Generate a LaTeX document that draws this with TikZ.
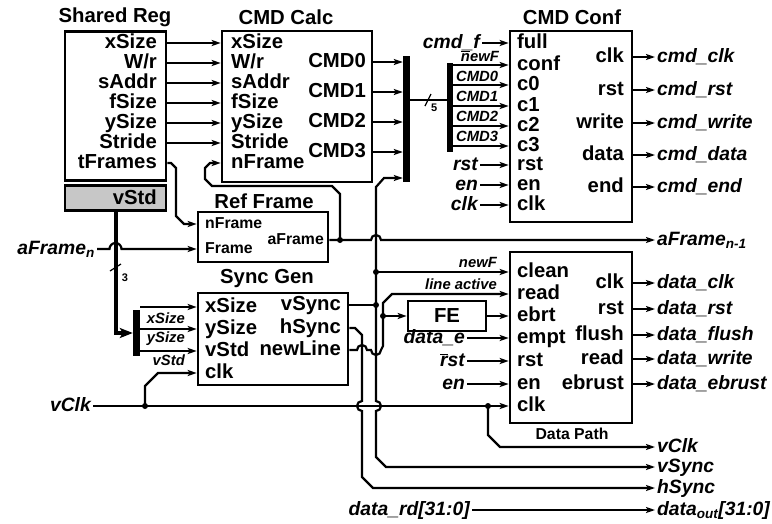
\documentclass[tikz,border=0pt]{standalone}
\usepackage{fontspec}
\setmainfont{Liberation Sans}
\usetikzlibrary{arrows.meta}

\newcommand{\bigfont}{\bfseries\fontsize{20.3}{21}\selectfont}
\newcommand{\midfont}{\bfseries\fontsize{15.8}{16}\selectfont}
\newcommand{\tagfont}{\bfseries\itshape\fontsize{14.8}{15}\selectfont}
\newcommand{\extfont}{\bfseries\itshape\fontsize{19.3}{20}\selectfont}
\newcommand{\ovl}[1]{$\overline{\mbox{#1}}$}

\begin{document}
\begin{tikzpicture}[x=1pt,y=-1pt,
  blk/.style={draw,line width=2.6pt,inner sep=0pt},
  bus/.style={fill=black,inner sep=0pt,minimum width=7pt},
  port/.style={inner sep=0pt,font=\bigfont,text height=14pt,text depth=4pt},
  sport/.style={port,font=\midfont,text height=11pt,text depth=3pt},
  ttl/.style={inner sep=0pt,font=\bigfont},
  ext/.style={inner xsep=2pt,inner ysep=0pt,font=\extfont,text height=14pt,text depth=4pt},
  tag/.style={inner sep=0pt,font=\tagfont},
  wire/.style={line width=2.2pt},
  sig/.style={wire,-{Stealth[length=9pt,width=6pt,inset=2pt]}},
  dot/.style={circle,fill,inner sep=0pt,minimum size=6pt}]
\useasboundingbox (0,0) rectangle (772,523);

% blocks
\node[blk,minimum width=101pt,minimum height=149pt] (sr) at (115.5,106) {};
\node[blk,fill=black!22,minimum width=101pt,minimum height=25pt] (vs) at (115.5,198) {};
\node[blk,minimum width=150pt,minimum height=151pt] (cc) at (297,106.5) {};
\node[blk,minimum width=122pt,minimum height=191pt] (cf) at (571,126.5) {};
\node[blk,minimum width=130pt,minimum height=50pt] (rf) at (263,237) {};
\node[blk,minimum width=150pt,minimum height=92pt] (sg) at (273,339) {};
\node[blk,minimum width=122pt,minimum height=171pt] (dp) at (571,337.5) {};
\node[blk,minimum width=78pt,minimum height=30pt,font=\bigfont] (fe) at (447,316) {FE};
\node[bus,minimum height=126pt] (b1) at (406.5,119) {};
\node[bus,minimum width=6pt,minimum height=89pt] (b2) at (450,107.5) {};
\node[bus,minimum height=46pt] (b3) at (136.5,333) {};

% titles
\node[ttl] (t-sr) at (115,17) {Shared Reg};
\node[ttl] (t-cc) at (286,17) {CMD Calc};
\node[ttl] (t-cf) at (572,17) {CMD Conf};
\node[ttl] (t-rf) at (264,201) {Ref Frame};
\node[ttl] (t-sg) at (267,279) {Sync Gen};
\node[inner sep=0pt,font=\midfont] (t-dp) at (572,434) {Data Path};

% Shared Reg -> CMD Calc
\foreach \n/\lbl/\y in {xs/xSize/43,wr/W\slash r/63,sa/sAddr/83,fs/fSize/103,ys/ySize/123,st/Stride/143,tf/tFrames/163}
  \node[port,anchor=east] (sr-\n) at (157,\y) {\lbl};
\node[port,anchor=east] (vs-vs) at (157,199) {vStd};
\foreach \n/\lbl/\y in {xs/xSize/43,wr/W\slash r/63,sa/sAddr/83,fs/fSize/103,ys/ySize/123,st/Stride/143,nf/nFrame/163}
  \node[port,anchor=west] (cc-\n) at (231,\y) {\lbl};
\foreach \n/\y in {0/62,1/92,2/122,3/152}
  \node[port,anchor=east] (cc-c\n) at (366,\y) {CMD\n};
\foreach \n in {xs,wr,sa,fs,ys,st} \draw[sig] (sr.east |- sr-\n) -- (cc.west |- sr-\n);
\foreach \n in {0,...,3} \draw[sig] (cc.east |- cc-c\n) -- (b1.west |- cc-c\n);

% CMD Conf
\foreach \n/\y in {full/43,conf/65,c0/85,c1/106,c2/126,c3/146,rst/165,en/185,clk/205}
  \node[port,anchor=west] (cf-\n) at (517,\y) {\n};
\foreach \n/\y in {clk/57,rst/90,write/123,data/155,end/187}{
  \node[port,anchor=east] (cf-o\n) at (624,\y) {\n};
  \node[ext,anchor=west] (cmd-\n) at (655,\y) {cmd\_\n};
  \draw[sig] (cf.east |- cf-o\n) -- (cmd-\n.west);}
\foreach \n in {conf,c0,c1,c2,c3} \draw[sig] (b2.east |- cf-\n) -- (cf.west |- cf-\n);
\node[tag,anchor=east] (l-nf) at (499,56) {\ovl{n}ewF};
\foreach \n/\y in {0/76,1/96,2/116,3/136} \node[tag,anchor=west] (l-c\n) at (456,\y) {CMD\n};
\node[ext,anchor=east] (cmdf) at (482,43) {cmd\_f};
\draw[sig] (cmdf.east) -- (cf.west |- cf-full);
\foreach \n/\y in {rst/165,en/185,clk/205}{
  \node[ext,anchor=east] (i-\n) at (480,\y) {\n};
  \draw[sig] (i-\n.east) -- (cf.west |- cf-\n);}

% 5 bit bus
\coordinate (bw) at (428,100);
\draw[wire] (b1.east |- bw) -- (b2.west |- bw);
\draw[line width=1.2pt] ([shift={(-3,6)}]bw) -- ([shift={(3,-6)}]bw);
\node[inner sep=0pt,font=\bfseries\fontsize{11}{11}\selectfont,anchor=west] (n5) at (431,108) {5};

% vStd bus (drawn first, the aFrame line hops over it)
\draw[line width=4pt,-{Stealth[length=13pt,width=10pt,inset=3pt]}] (vs.south) |- (b3.west);
\draw[line width=1.2pt] (110,271) -- (121,264);
\node[inner sep=0pt,font=\bfseries\fontsize{11}{11}\selectfont] (n3) at (125,278) {3};

% Ref Frame
\node[sport,anchor=west] (rf-nf) at (205,224) {nFrame};
\node[sport,anchor=west] (rf-fr) at (205,249) {Frame};
\node[sport,anchor=east] (rf-af) at (324,240) {aFrame};
\node[ext,anchor=east] (afi) at (97,249) {aFrame\textsubscript{n}};
\node[ext,anchor=west] (afo) at (655,240) {aFrame\textsubscript{n-1}};
\node[dot] (j-af) at (340,240) {};
\draw[sig] (sr.east |- sr-tf) -- (171,163) -- (176,168) -- (176,216) -- (184,224) -- (rf.west |- rf-nf);
\draw[sig] (rf.east |- rf-af) -- (371,240) arc[start angle=180,end angle=360,radius=5] -- (afo.west);
\draw[sig] (j-af.center) -- (340,194) -- (332,186) -- (212,186) -- (205,179) -- (205,168) -- (210,163) -- (cc.west |- cc-nf);
\draw[sig] (afi.east) -- (109.5,249) arc[start angle=180,end angle=360,radius=6] -- (rf.west |- rf-fr);

% Sync Gen
\foreach \n/\lbl/\y in {xs/xSize/307,ys/ySize/329,vs/vStd/351,clk/clk/373}
  \node[port,anchor=west] (sg-\n) at (205,\y) {\lbl};
\foreach \n/\lbl/\y in {vsync/vSync/305,hsync/hSync/328,nl/newLine/350}
  \node[port,anchor=east] (sg-\n) at (341,\y) {\lbl};
\foreach \n/\lbl/\y in {xs/xSize/318,ys/ySize/339,vs/vStd/360}
  \node[tag,anchor=east] (l-\n) at (185,\y) {\lbl};
\foreach \n in {xs,ys,vs} \draw[sig] (b3.east |- sg-\n) -- (sg.west |- sg-\n);

% Data Path
\foreach \n/\y in {clean/272,read/294,ebrt/316,empt/338,rst/361,en/384,clk/406}
  \node[port,anchor=west] (dp-\n) at (517,\y) {\n};
\foreach \n/\lbl/\y in {clk/clk/283,rst/rst/309,flush/flush/335,read/write/359,ebrust/ebrust/384}{
  \node[port,anchor=east] (dp-o\n) at (624,\y) {\n};
  \node[ext,anchor=west] (data-\lbl) at (655,\y) {data\_\lbl};
  \draw[sig] (dp.east |- dp-o\n) -- (data-\lbl.west);}
\node[tag,anchor=east] (l-newf) at (497,262) {newF};
\node[tag,anchor=east] (l-la) at (497,284) {line active};
\node[ext,anchor=east] (i-de) at (467,338) {data\_e};
\node[ext,anchor=east] (i-drst) at (467,361) {\ovl{r}st};
\node[ext,anchor=east] (i-den) at (467,384) {en};
\foreach \n/\p in {de/empt,drst/rst,den/en} \draw[sig] (i-\n.east) -- (dp.west |- dp-\p);

% clocks and syncs
\node[ext,anchor=east] (vclk) at (93,406) {vClk};
\node[ext,anchor=west] (o-vclk) at (655,447) {vClk};
\node[ext,anchor=west] (o-vsync) at (655,467) {vSync};
\node[ext,anchor=west] (o-hsync) at (655,488) {hSync};
\node[ext,anchor=west] (o-dout) at (655,510) {data\textsubscript{out}[31:0]};
\node[ext,anchor=east] (i-drd) at (472,510) {data\_rd[31:0]};
\node[dot] (j-nf) at (376,272) {};
\node[dot] (j-vs) at (376,305) {};
\node[dot] (j-nl) at (383,316) {};
\node[dot] (j-c1) at (145,406) {};
\node[dot] (j-c2) at (488,406) {};
\draw[sig] (vclk.east) -- (dp.west |- dp-clk);
\draw[sig] (j-c1.center) -- (145,386) -- (158,373) -- (sg.west |- sg-clk);
\draw[sig] (j-c2.center) -- (488,435) -- (500,447) -- (o-vclk.west);
\draw[wire] (sg.east |- sg-vsync) -- (j-vs.center);
\draw[sig] (j-vs.center) -- (376,187) -- (384,178) -- (b1.west |- 0,178);
\draw[sig] (j-nf.center) -- (dp.west |- dp-clean);
\draw[sig] (j-vs.center) -- (376,401) arc[start angle=-90,end angle=90,radius=5] -- (376,457) -- (386,467) -- (o-vsync.west);
\draw[sig] (sg.east |- sg-hsync) -- (355,328) -- (362,335) -- (362,401) arc[start angle=-90,end angle=-270,radius=5] -- (362,477) -- (373,488) -- (o-hsync.west);
\draw[sig] (sg.east |- sg-nl) -- (357,350) arc[start angle=180,end angle=360,radius=5] -- (371,350) arc[start angle=180,end angle=0,radius=5] -- (383,346) -- (383,303) -- (392,294) -- (dp.west |- dp-read);
\draw[sig] (j-nl.center) -- (fe.west);
\draw[sig] (fe.east) -- (dp.west |- fe);
\draw[sig] (i-drd.east) -- (o-dout.west);
\end{tikzpicture}
\end{document}
